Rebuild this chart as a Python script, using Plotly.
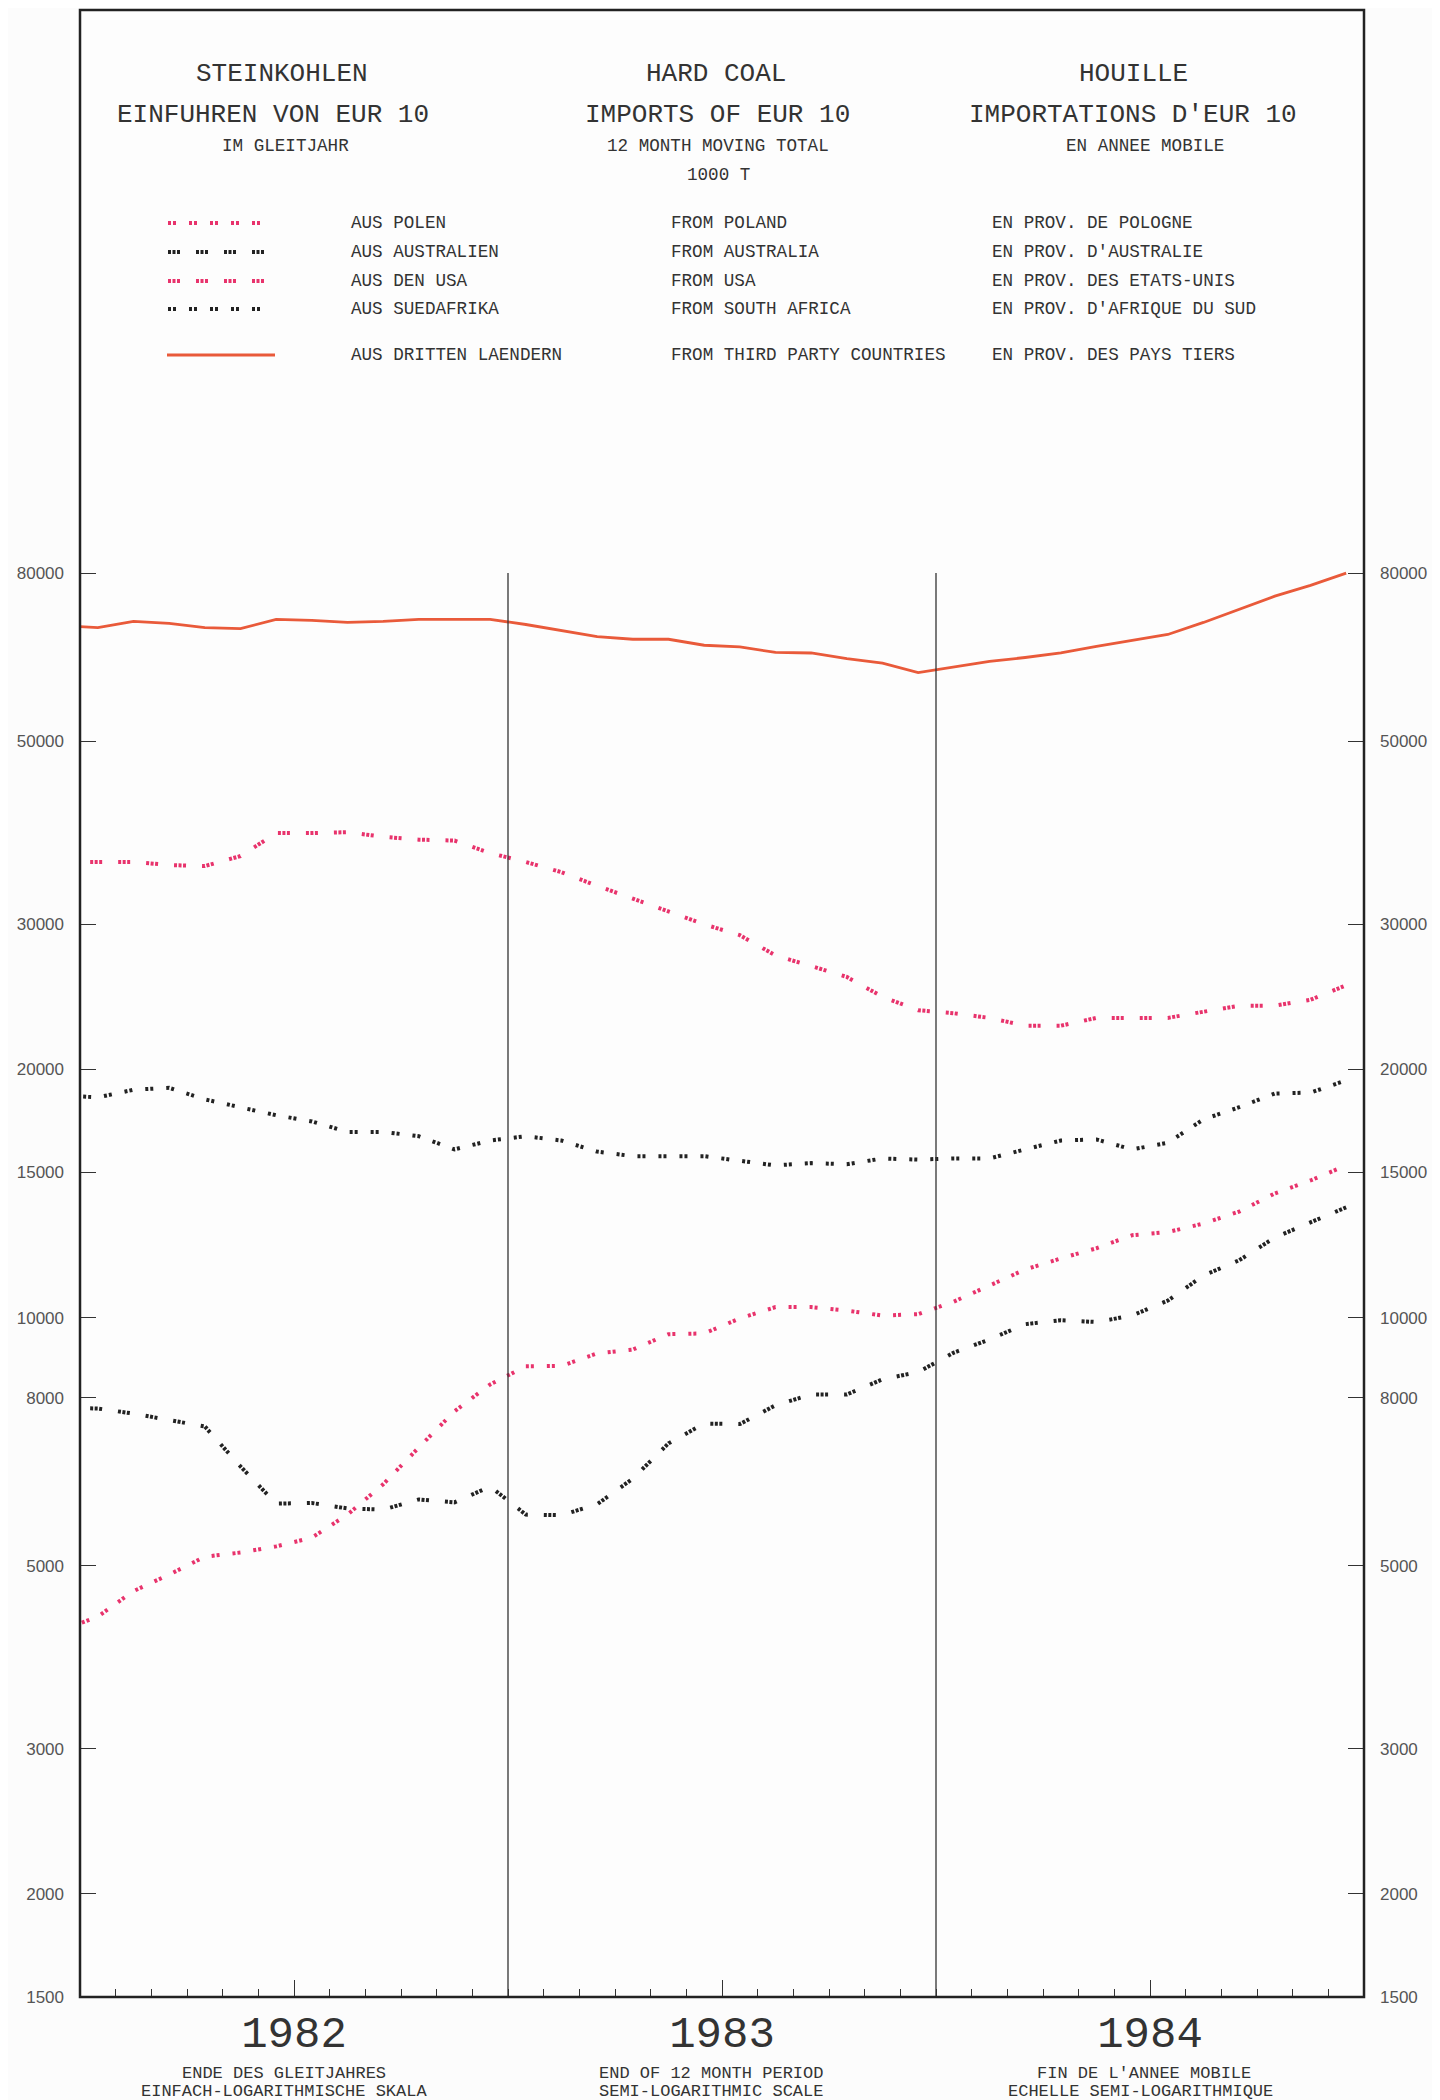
import math
import plotly.graph_objects as go

# Months of the 12-month moving total; index 0 = Dec 1981 (clipped at the left frame),
# 1..36 = Jan 1982 .. Dec 1984
months = list(range(0, 37))
years = ["1982", "1983", "1984"]

third_countries = [69100, 68700, 69900, 69500, 68700, 68500, 70300, 70100, 69700, 69900,
                   70300, 70300, 70300, 69300, 68200, 67000, 66500, 66500, 65400, 65100,
                   64100, 64000, 63000, 62200, 60600, 61600, 62500, 63200, 64000, 65200,
                   66300, 67400, 69700, 72300, 75000, 77300, 80000]
usa = [35700, 35700, 35700, 35400, 35300, 36300, 38700, 38700, 38800, 38300,
       38000, 37900, 36600, 35700, 34700, 33400, 32200, 31100, 30000, 29100,
       27500, 26700, 25900, 24500, 23600, 23400, 23100, 22600, 22600, 23100,
       23100, 23100, 23500, 23900, 23900, 24300, 25300]
south_africa = [18600, 18500, 18900, 19000, 18400, 18000, 17600, 17300, 16800, 16800,
                16600, 16000, 16400, 16600, 16400, 15900, 15700, 15700, 15700, 15500,
                15300, 15400, 15350, 15600, 15550, 15600, 15600, 16000, 16400, 16450,
                16000, 16300, 17400, 18000, 18700, 18750, 19400]
australia = [7780, 7760, 7650, 7510, 7380, 6600, 5950, 5960, 5870, 5850,
             6020, 5970, 6240, 5770, 5760, 5940, 6380, 7040, 7440, 7430,
             7830, 8070, 8070, 8420, 8590, 9070, 9410, 9820, 9930, 9880,
             10060, 10490, 11250, 11740, 12510, 13050, 13610]
poland = [4180, 4340, 4660, 4880, 5130, 5190, 5280, 5410, 5770, 6280,
          6960, 7700, 8300, 8730, 8740, 9050, 9150, 9550, 9570, 9980,
          10300, 10300, 10200, 10060, 10100, 10460, 10940, 11440, 11800, 12140,
          12590, 12700, 13010, 13450, 14150, 14670, 15300]

y_ticks = [1500, 2000, 3000, 5000, 8000, 10000, 15000, 20000, 30000, 50000, 80000]

# plotter pens
PINK = "#e8336c"
BLACK = "#222222"
RED = "#e95a3a"
DASH3 = "3px,1.5px,3px,1.5px,3px,16px"   # groups of three dots
DASH2 = "3px,2px,3px,13px"               # groups of two dots
MONO = "Liberation Mono"
TXT = "#333333"

# legend rows: german, english, french, data, colour, dash
legend_rows = [
    ("AUS POLEN", "FROM POLAND", "EN PROV. DE POLOGNE", poland, PINK, DASH2),
    ("AUS AUSTRALIEN", "FROM AUSTRALIA", "EN PROV. D'AUSTRALIE", australia, BLACK, DASH3),
    ("AUS DEN USA", "FROM USA", "EN PROV. DES ETATS-UNIS", usa, PINK, DASH3),
    ("AUS SUEDAFRIKA", "FROM SOUTH AFRICA", "EN PROV. D'AFRIQUE DU SUD", south_africa, BLACK, DASH2),
    ("AUS DRITTEN LAENDERN", "FROM THIRD PARTY COUNTRIES", "EN PROV. DES PAYS TIERS",
     third_countries, RED, "solid"),
]

# page geometry (px); the html body adds an 8px margin top/left
OFF = 8
W, H = 1440 - OFF, 2100 - OFF
L, R, T, B = 80 - OFF, 1364 - OFF, 10 - OFF, 1997 - OFF
PX_PER_DECADE = 824.5


def paper(x, y):
    """page pixel -> paper coordinates"""
    return (x - OFF - L) / (R - L), (B - (y - OFF)) / (B - T)


y_bottom = math.log10(min(y_ticks))
y_top = y_bottom + (B - T) / PX_PER_DECADE

fig = go.Figure()

# year dividers, from the lowest to the highest scale value
n_years = len(years)
per_year = (len(months) - 1) // n_years
div_x, div_y = [], []
for k in range(1, n_years):
    xb = k * per_year + 0.5
    div_x += [xb, xb, None]
    div_y += [min(y_ticks), max(y_ticks), None]
fig.add_trace(go.Scatter(x=div_x, y=div_y, mode="lines", yaxis="y2",
                         line=dict(color="#333333", width=1.3),
                         hoverinfo="skip", showlegend=False))

for de, en, fr, vals, color, dash in legend_rows:
    fig.add_trace(go.Scatter(
        x=months, y=vals, mode="lines", name=en,
        line=dict(color=color, width=4 if dash != "solid" else 2.8, dash=dash),
        showlegend=False,
    ))

# header titles (three languages)
headers = [
    (282, 74, "STEINKOHLEN", 26), (716, 74, "HARD COAL", 26), (1133, 74, "HOUILLE", 26),
    (273, 115, "EINFUHREN VON EUR 10", 26), (717, 115, "IMPORTS OF EUR 10", 26),
    (1133, 115, "IMPORTATIONS D'EUR 10", 26),
    (285, 146, "IM GLEITJAHR", 17.6), (718, 146, "12 MONTH MOVING TOTAL", 17.6),
    (1145, 146, "EN ANNEE MOBILE", 17.6),
    (718, 175, "1000 T", 17.6),
]
annotations = []
for x, y, text, size in headers:
    px_, py_ = paper(x, y)
    annotations.append(dict(x=px_, y=py_, xref="paper", yref="paper", text=text,
                            showarrow=False, xanchor="center", yanchor="middle",
                            font=dict(family=MONO, size=size, color=TXT)))

# legend table
shapes = []
row_y = [223, 252, 281, 309, 355]
for (de, en, fr, vals, color, dash), y in zip(legend_rows, row_y):
    for x, text in ((349, de), (669, en), (990, fr)):
        px_, py_ = paper(x, y)
        annotations.append(dict(x=px_, y=py_, xref="paper", yref="paper", text=text,
                                showarrow=False, xanchor="left", yanchor="middle",
                                font=dict(family=MONO, size=17.6, color=TXT)))
    x0, y0 = paper(168 if dash != "solid" else 167, y)
    x1, _ = paper(268 if dash != "solid" else 275, y)
    shapes.append(dict(type="line", xref="paper", yref="paper", x0=x0, x1=x1, y0=y0, y1=y0,
                       line=dict(color=color, width=4 if dash != "solid" else 2.8,
                                 dash=dash)))

# footer
footers = [
    (284, 2073, "ENDE DES GLEITJAHRES"), (284, 2091, "EINFACH-LOGARITHMISCHE SKALA"),
    (711, 2073, "END OF 12 MONTH PERIOD"), (711, 2091, "SEMI-LOGARITHMIC SCALE"),
    (1144, 2073, "FIN DE L'ANNEE MOBILE"), (1140, 2091, "ECHELLE SEMI-LOGARITHMIQUE"),
]
for x, y, text in footers:
    px_, py_ = paper(x, y)
    annotations.append(dict(x=px_, y=py_, xref="paper", yref="paper", text=text,
                            showarrow=False, xanchor="center", yanchor="middle",
                            font=dict(family=MONO, size=17, color=TXT)))

# frame
shapes.append(dict(type="rect", xref="paper", yref="paper", x0=0, x1=1, y0=0, y1=1,
                   line=dict(color="#222222", width=2.5), layer="above"))

# x ticks: quarters (major) and months (minor); year label at mid-year
quarter_ticks, quarter_text = [], []
for k, yr in enumerate(years):
    for q in (3, 6, 9):
        quarter_ticks.append(k * per_year + q + 0.5)
        quarter_text.append(yr if q == 6 else "")
month_ticks = [m + 0.5 for m in months[:-1]]

yaxis_common = dict(
    type="log", range=[y_bottom, y_top], tickvals=y_ticks,
    ticktext=[str(v) for v in y_ticks], ticks="inside", ticklen=16, tickwidth=1.4,
    tickcolor="#333333", showgrid=False, zeroline=False, showline=False,
    tickfont=dict(family="Liberation Sans", size=17, color="#555555"),
    ticklabelstandoff=15,
)

fig.update_layout(
    width=W, height=H,
    margin=dict(l=L, r=W - R, t=T, b=H - B, pad=0),
    paper_bgcolor="#fcfcfc", plot_bgcolor="#fdfdfd",
    showlegend=False,
    xaxis=dict(range=[0.5, len(months) - 0.5], tickvals=quarter_ticks, ticktext=quarter_text,
               ticks="inside", ticklen=17, tickwidth=1.4, tickcolor="#333333",
               minor=dict(tickvals=month_ticks, ticks="inside", ticklen=8, tickwidth=1.2,
                          tickcolor="#333333"),
               showgrid=False, zeroline=False, showline=False,
               tickfont=dict(family=MONO, size=44, color="#333333"),
               ticklabelstandoff=5),
    yaxis=dict(**yaxis_common, side="left"),
    yaxis2=dict(**yaxis_common, side="right", overlaying="y"),
    annotations=annotations,
    shapes=shapes,
)

fig.write_html("out.html")
